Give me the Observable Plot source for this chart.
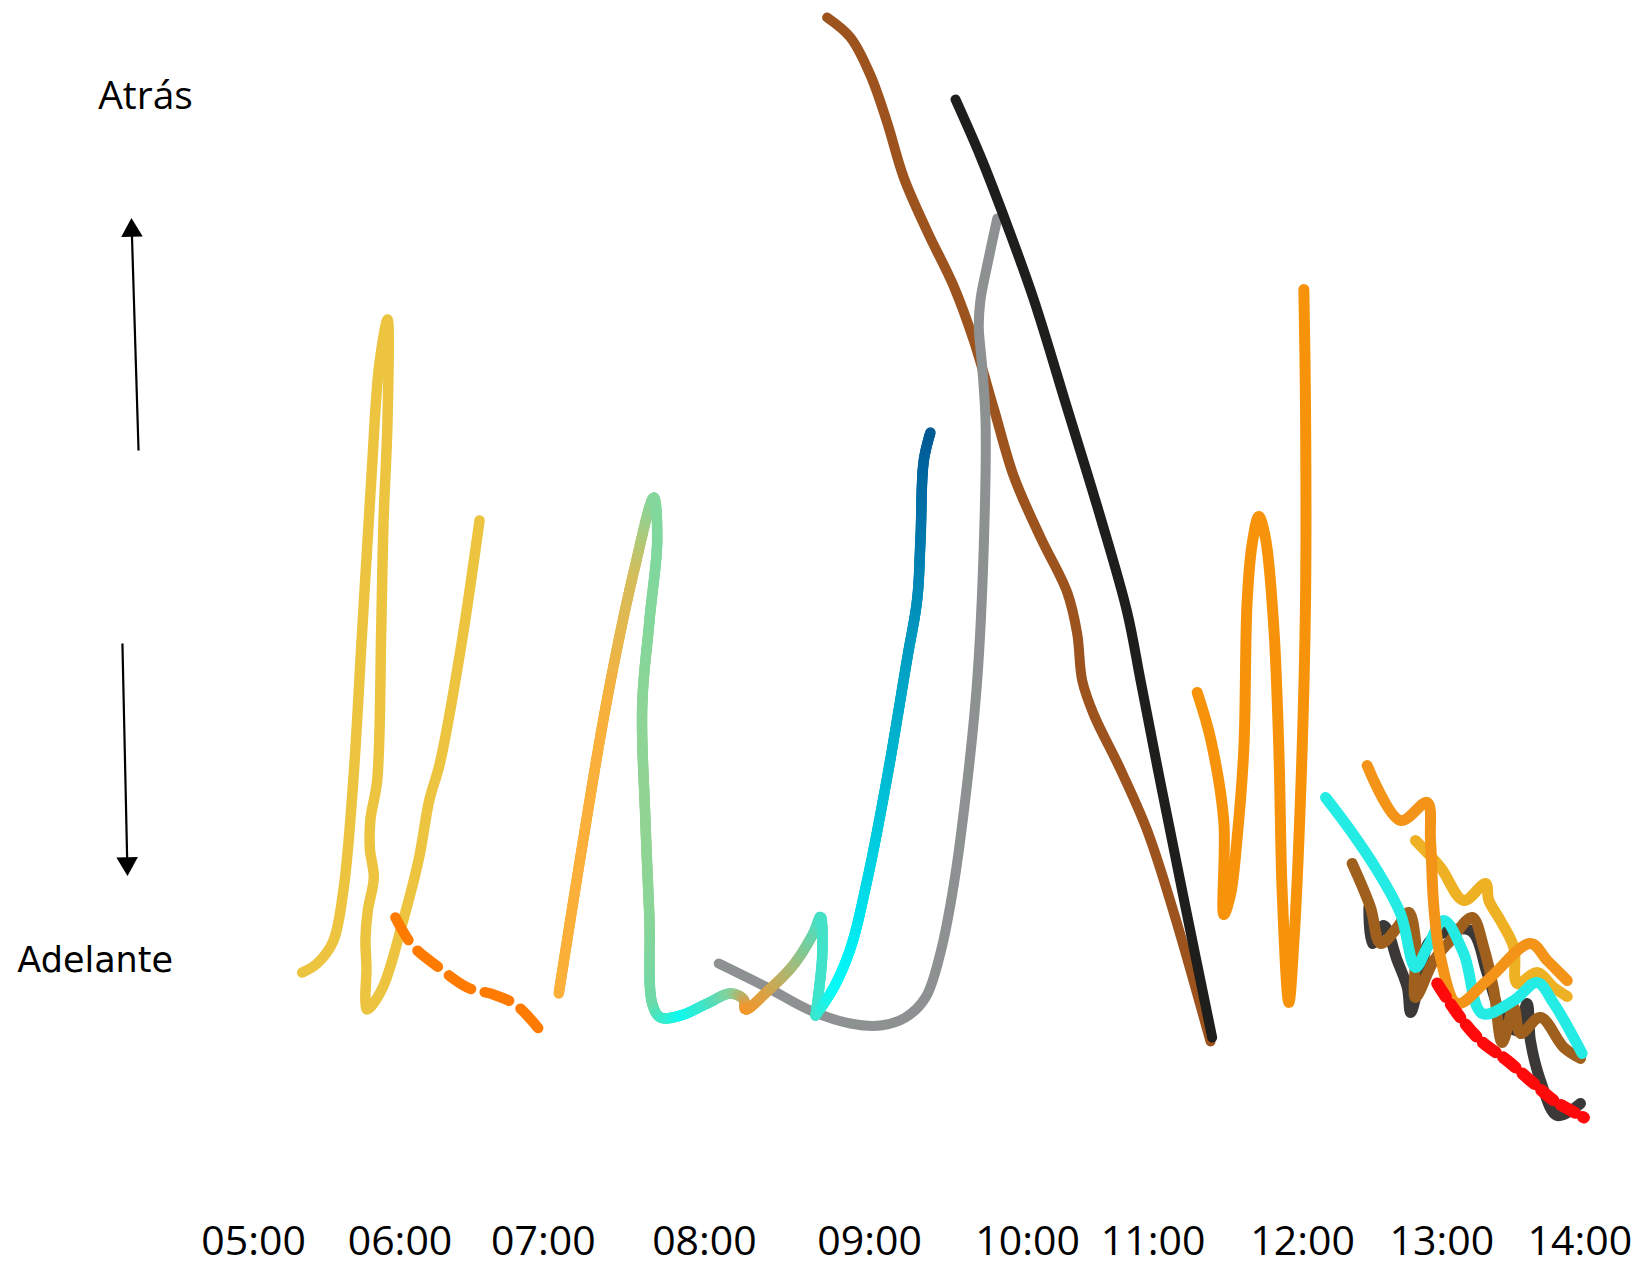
<!DOCTYPE html>
<html>
<head>
<meta charset="utf-8">
<script src="https://cdn.jsdelivr.net/npm/d3@7"></script>
<script src="https://cdn.jsdelivr.net/npm/@observablehq/plot@0.6"></script>
<style>
  html, body { margin: 0; padding: 0; background: #fff; }
  #chart svg { display: block; }
</style>
</head>
<body>
<div id="chart"></div>
<script>
// ---------- tick categories ----------
const hours = [5, 6, 7, 8, 9, 10, 11, 12, 13, 14];
const tickLabels = ["05:00", "06:00", "07:00", "08:00", "09:00", "10:00", "11:00", "12:00", "13:00", "14:00"];

// ---------- series: [hour, desfase] (higher = "Atrás", lower = "Adelante") ----------
const serieAmarilla = [[5.332,30.0],[5.434,30.9],[5.543,33.1],[5.614,38.3],[5.679,48.8],[5.743,64.5],[5.807,80.1],[5.857,90.6],[5.915,95.3],[5.915,85.4],[5.887,74.9],[5.872,64.5],[5.844,49.2],[5.798,45.3],[5.794,42.4],[5.821,39.5],[5.780,36.2],[5.764,33.3],[5.771,30.4],[5.764,27.1],[5.776,26.3],[5.879,28.4],[6.022,35.2],[6.132,41.4],[6.204,47.2],[6.278,50.9],[6.424,62.4],[6.555,75.2]];
const serieNaranjaDiscontinua = [[5.969,35.5],[6.087,32.7],[6.262,30.6],[6.471,28.5],[6.652,27.8],[6.806,26.8],[6.967,24.4]];
const serieVerde = [[7.096,27.9],[7.231,41.6],[7.397,57.4],[7.562,70.1],[7.686,77.5],[7.707,73.3],[7.659,65.2],[7.614,56.6],[7.633,45.5],[7.659,35.2],[7.676,26.9],[7.728,25.5],[7.852,25.7],[8.017,26.9],[8.158,27.9],[8.238,27.3],[8.248,26.3],[8.380,28.1],[8.541,30.8],[8.662,34.0],[8.703,35.6],[8.713,31.6],[8.673,25.7]];
const serieAzul = [[8.673,25.7],[8.783,28.5],[8.884,32.4],[8.985,39.2],[9.111,49.5],[9.238,61.4],[9.301,67.3],[9.322,73.3],[9.343,81.2],[9.385,84.0]];
const serieGris = [[8.087,30.9],[8.380,28.5],[8.642,26.2],[8.884,24.9],[9.069,24.7],[9.227,25.5],[9.354,27.5],[9.449,32.0],[9.533,38.8],[9.618,49.0],[9.681,59.2],[9.723,72.8],[9.734,85.0],[9.713,90.5],[9.691,94.6],[9.702,97.3],[9.744,100.7],[9.808,105.4]];
const serieMarron = [[8.743,125.5],[8.884,123.5],[9.006,119.7],[9.111,115.0],[9.216,109.5],[9.365,104.1],[9.533,98.6],[9.659,93.2],[9.786,86.4],[9.913,79.6],[10.103,73.5],[10.316,68.0],[10.395,63.9],[10.435,59.2],[10.527,55.8],[10.740,50.3],[10.953,44.2],[11.138,36.0],[11.384,23.1]];
const serieNegra = [[9.544,117.3],[9.702,111.6],[9.871,104.7],[10.049,97.3],[10.316,86.4],[10.581,75.5],[10.794,66.0],[10.900,59.2],[11.049,49.0],[11.205,37.4],[11.395,23.5]];
const serieNaranja = [[11.295,58.0],[11.384,53.4],[11.473,45.1],[11.473,35.8],[11.518,37.8],[11.563,43.6],[11.607,52.4],[11.629,67.1],[11.663,72.9],[11.707,75.6],[11.752,73.4],[11.807,64.6],[11.841,52.4],[11.864,37.8],[11.908,27.0],[11.941,32.9],[11.986,47.5],[12.021,67.1],[12.021,86.6],[12.009,98.3]];
const finalNegra = [[12.476,36.5],[12.500,32.9],[12.583,34.7],[12.680,31.2],[12.752,28.5],[12.776,26.0],[12.847,29.5],[12.919,33.2],[13.208,34.2],[13.329,29.9],[13.449,25.2],[13.546,24.2],[13.618,26.9],[13.642,23.2],[13.715,19.2],[13.836,15.7],[14.005,16.9]];
const finalMarron = [[12.356,40.9],[12.488,36.5],[12.560,32.9],[12.680,34.5],[12.763,36.0],[12.811,33.2],[12.811,27.5],[12.943,31.2],[13.063,33.2],[13.220,35.5],[13.304,32.5],[13.377,28.2],[13.438,23.0],[13.522,26.5],[13.570,23.9],[13.715,25.5],[13.884,22.5],[14.005,21.4]];
const finalAmarilla = [[12.811,43.2],[12.991,40.5],[13.159,37.2],[13.317,38.9],[13.341,37.2],[13.425,35.2],[13.522,32.5],[13.546,28.9],[13.691,30.0],[13.812,28.5],[13.909,27.6]];
const finalCian = [[12.165,47.5],[12.344,44.2],[12.536,40.2],[12.703,35.9],[12.811,30.5],[12.895,32.5],[13.014,35.2],[13.159,31.9],[13.293,25.9],[13.522,27.2],[13.691,29.0],[13.812,26.9],[14.017,21.9]];
const finalNaranja = [[12.464,50.7],[12.703,45.2],[12.895,47.0],[12.919,43.2],[12.943,36.5],[12.991,31.5],[13.112,26.9],[13.329,29.2],[13.643,32.9],[13.764,31.2],[13.909,29.2]];
const finalRoja = [[12.967,28.9],[13.112,25.9],[13.280,23.2],[13.474,21.2],[13.667,18.9],[13.812,17.2],[14.030,15.5]];

// ---------- annotations ----------
const etiquetas = [{t: "Atrás", x: 4.262, y: 117.6}, {t: "Adelante", x: 3.918, y: 31.2}];
const flechas = [{x1: 4.214, y1: 82.2, x2: 4.168, y2: 104.2, rot: -1.7}, {x1: 4.104, y1: 62.9, x2: 4.137, y2: 40.9, rot: 178.8}];

// ---------- styles (kept apart from the data) ----------
const coloresVerde = ["#fbb03b","#fbb03b","#f8b13d","#d4bd5c","#84d79c","#7fd89e","#83d79b","#8cd597","#92d493","#8ad598","#6edaa8","#3fe8c6","#0cfaf0","#45e2c3","#86d199","#c6a85c","#f29628","#d9a246","#a3bb7a","#62d6ad","#45e0c6","#40e3ca","#3ee4cb"];
const coloresAzul = ["#3ee4cb","#08fbf8","#00f0f4","#00d8e6","#00bcd4","#00a0c4","#008fba","#007aae","#00649e","#005a94"];
const baseVerde = "#84d79d", baseAzul = "#00a0c5";

const W = 1640, H = 1272;
const tickPx = [253.1, 399.5, 542.8, 703.9, 869.1, 1027.1, 1152.6, 1302.1, 1441.3, 1579.3];

function linea(data, stroke, width, extra = {}) {
  return Plot.line(data, {
    x: d => d[0], y: d => d[1],
    curve: "catmull-rom",
    stroke, strokeWidth: width,
    strokeLinecap: "round", strokeLinejoin: "round",
    ...extra
  });
}

const plot = Plot.plot({
  width: W, height: H,
  marginTop: 0, marginRight: 0, marginLeft: 0, marginBottom: 70,
  style: {background: "#fff", overflow: "visible"},
  x: {type: "linear", domain: hours, range: tickPx},
  y: {domain: [0, 127.2], range: [H, 0], axis: null},
  marks: [
    Plot.axisX(hours, {
      anchor: "bottom", tickSize: 0, tickPadding: 23, label: null,
      tickFormat: d => tickLabels[hours.indexOf(d)],
      fontSize: 41, fontFamily: "'Open Sans', sans-serif", fill: "#000"
    }),
    // annotations
    Plot.text(etiquetas.slice(0, 1), {x: "x", y: "y", text: "t", fontSize: 39, fontFamily: "'Open Sans', sans-serif", fill: "#000"}),
    Plot.text(etiquetas.slice(1), {x: "x", y: "y", text: "t", fontSize: 35, fontFamily: "'DejaVu Sans', sans-serif", fill: "#000", letterSpacing: 4}),
    Plot.link(flechas, {x1: "x1", y1: "y1", x2: "x2", y2: "y2", stroke: "#000", strokeWidth: 2.2}),
    Plot.dot(flechas, {x: "x2", y: "y2", symbol: "triangle", r: 8, fill: "#000", stroke: "none", rotate: "rot"}),
    // series
    linea(serieAmarilla, "#ecc440", 10.5),
    linea(serieNaranjaDiscontinua, "#ff7a00", 10.5, {strokeDasharray: "26,14"}),
    linea(serieMarron, "#9d531d", 10),
    linea(serieGris, "#8e9191", 10),
    linea(serieNegra, "#1e1e1c", 10),
    linea(serieVerde, baseVerde, 10.5),
    linea(serieAzul, baseAzul, 10.5),
    linea(serieNaranja, "#f7930b", 11),
    linea(finalNegra, "#3b3937", 11),
    linea(finalMarron, "#a0601d", 11),
    linea(finalAmarilla, "#efb124", 11),
    linea(finalCian, "#24ebe3", 11),
    linea(finalNaranja, "#f39419", 11),
    linea(finalRoja, "#ff0a0a", 12, {strokeDasharray: "16,9"})
  ]
});

document.getElementById("chart").appendChild(plot);

// colour a smooth Plot line progressively along its length
function gradientize(svg, baseColor, pts, colors, width) {
  try {
    let path = null;
    for (const el of svg.querySelectorAll("g, path")) {
      if ((el.getAttribute("stroke") || "").toLowerCase() === baseColor) {
        path = el.tagName.toLowerCase() === "path" ? el : el.querySelector("path");
        if (path) break;
      }
    }
    if (!path) return;
    const xs = plot.scale("x"), ys = plot.scale("y");
    const P = pts.map(p => [xs.apply(p[0]), ys.apply(p[1])]);
    const cum = [0];
    for (let i = 1; i < P.length; i++) cum.push(cum[i - 1] + Math.hypot(P[i][0] - P[i - 1][0], P[i][1] - P[i - 1][1]));
    const tot = cum[cum.length - 1];
    const fr = cum.map(c => c / tot);
    const colorAt = t => {
      let i = 0;
      while (i < fr.length - 2 && t > fr[i + 1]) i++;
      const u = (t - fr[i]) / ((fr[i + 1] - fr[i]) || 1);
      return d3.interpolateRgb(colors[i], colors[i + 1])(Math.max(0, Math.min(1, u)));
    };
    const L = path.getTotalLength();
    if (!(L > 0)) return;
    const step = 2;
    const n = Math.ceil(L / step);
    const ns = "http://www.w3.org/2000/svg";
    const holder = document.createElementNS(ns, "g");
    const tr = path.getAttribute("transform");
    if (tr) holder.setAttribute("transform", tr);
    let prev = path.getPointAtLength(0);
    for (let k = 1; k <= n; k++) {
      const p = path.getPointAtLength(Math.min(L, k * step));
      const ln = document.createElementNS(ns, "line");
      ln.setAttribute("x1", prev.x); ln.setAttribute("y1", prev.y);
      ln.setAttribute("x2", p.x); ln.setAttribute("y2", p.y);
      ln.setAttribute("stroke", colorAt((k - 0.5) / n));
      ln.setAttribute("stroke-width", width);
      ln.setAttribute("stroke-linecap", "round");
      holder.appendChild(ln);
      prev = p;
    }
    path.parentNode.insertBefore(holder, path);
    path.remove();
  } catch (e) { /* keep the plain line if anything fails */ }
}
gradientize(plot, baseVerde, serieVerde, coloresVerde, 10.5);
gradientize(plot, baseAzul, serieAzul, coloresAzul, 10.5);
</script>
</body>
</html>
